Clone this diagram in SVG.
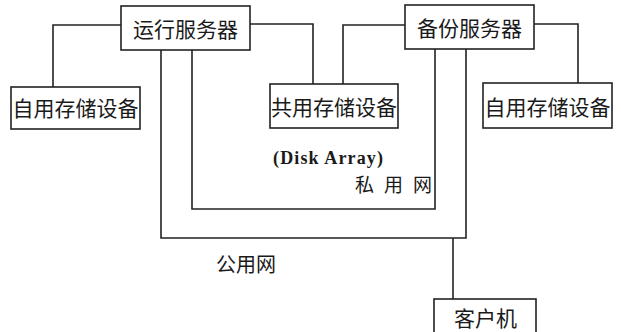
<svg xmlns="http://www.w3.org/2000/svg" width="621" height="332" viewBox="0 0 621 332">
<style>
.box{fill:#fff;stroke:#222;stroke-width:1.6}
.ln{fill:none;stroke:#222;stroke-width:1.6}
.t{font-family:"Noto Sans CJK SC","Noto Sans",sans-serif;font-size:21px;fill:#1a1a1a;text-anchor:middle;dominant-baseline:central}
.s{font-family:"Liberation Serif","DejaVu Serif",serif;font-size:18px;font-weight:bold;fill:#1a1a1a}
.n{font-family:"Noto Sans CJK SC",sans-serif;font-size:19px;fill:#1a1a1a}
</style>
<rect width="621" height="332" fill="#fff"/>
<g id="connectors">
<polyline class="ln" points="121,25 53,25 53,87"/>
<polyline class="ln" points="250,24 313,24 313,84"/>
<polyline class="ln" points="405,25 343,25 343,84"/>
<polyline class="ln" points="534,24 578,24 578,83"/>
<polyline class="ln" points="192,50 192,209 435,209 435,49"/>
<polyline class="ln" points="161,50 161,238 466,238 466,49"/>
<line class="ln" x1="453" y1="238" x2="453" y2="299"/>
</g>
<g id="run-server"><rect class="box" x="121" y="6" width="129" height="44"/><text class="t" x="185.5" y="28">运行服务器</text></g>
<g id="backup-server"><rect class="box" x="405" y="5" width="129" height="44"/><text class="t" x="469.5" y="27">备份服务器</text></g>
<g id="local-storage-left"><rect class="box" x="11" y="87" width="129" height="42"/><text class="t" x="75.5" y="107">自用存储设备</text></g>
<g id="shared-storage"><rect class="box" x="270" y="84" width="128" height="44"/><text class="t" x="334" y="106">共用存储设备</text></g>
<g id="local-storage-right"><rect class="box" x="483" y="83" width="129" height="45"/><text class="t" x="547.5" y="106">自用存储设备</text></g>
<g id="client"><rect class="box" x="434" y="299" width="102" height="45"/><text class="t" x="485.5" y="317">客户机</text></g>
<text class="s" x="273" y="164" textLength="110" lengthAdjust="spacing">(Disk Array)</text>
<text class="n" x="355" y="192" textLength="77" lengthAdjust="spacing">私用网</text>
<text class="n" x="216" y="272" style="font-size:20px">公用网</text>
</svg>
